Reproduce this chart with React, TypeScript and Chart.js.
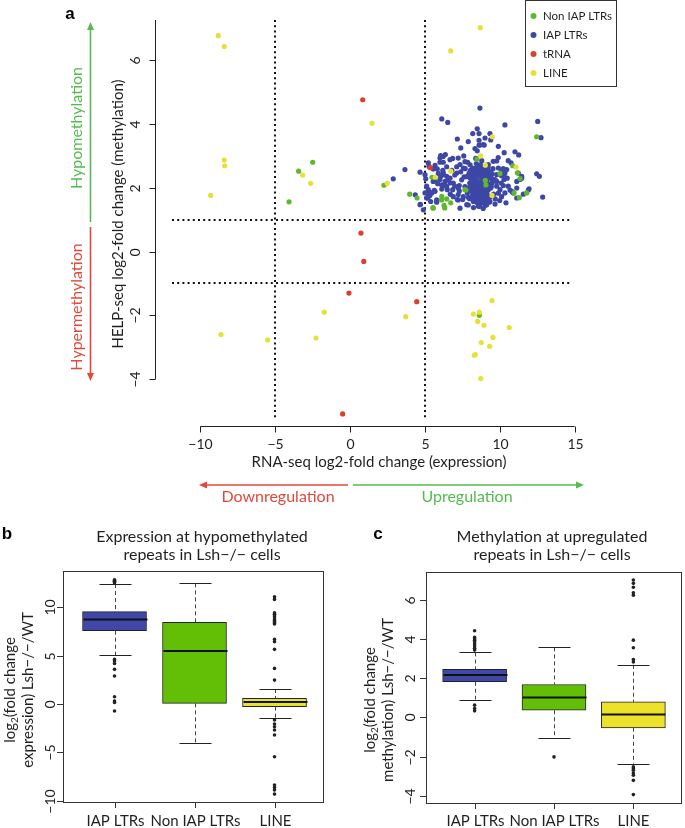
import React, { useEffect, useRef } from "react";
import { Chart, registerables } from "chart.js";
Chart.register(...registerables);

// ---------------- Panel a data ----------------
const xTicksA = [-10, -5, 0, 5, 10, 15];
const yTicksA = [-4, -2, 0, 2, 4, 6];
const expressionCutoffs = [-5, 5];
const methylationCutoffs = [-1, 1];
const legendLabels = ["Non IAP LTRs", "IAP LTRs", "tRNA", "LINE"];

const nonIapLTRs: [number, number][] = [
  [-2.49, 2.8], [-3.43, 2.52], [-4.07, 1.56], [2.27, 2.08], [3.99, 1.8], [4.48, 1.68],
  [5.54, 1.38], [6.13, 1.73], [6.46, 1.65], [6.73, 1.53], [6.28, 1.45], [6.33, 1.37],
  [5.48, 2.33], [7.75, 1.93], [8.48, 2.9], [9.04, 2.23], [9.08, 2.09], [8.64, -2.0],
  [10.02, 2.45], [10.96, 1.84], [11.18, 2.47], [11.31, 1.69], [11.8, 1.84], [12.47, 3.6],
  [10.87, 2.69], [11.36, 2.29], [6.12, 1.62], [5.56, 1.36], [7.68, 1.94],
];

const iapLTRs: [number, number][] = [
  [8.68, 4.5], [6.13, 4.16], [6.53, 4.05], [10.35, 3.97], [12.54, 4.08], [8.5, 3.85],
  [8.2, 3.7], [8.62, 3.7], [9.35, 3.7], [9.02, 3.56], [8.62, 3.49], [12.76, 3.57],
  [7.17, 3.53], [8.62, 3.34], [8.97, 3.34], [9.91, 3.3], [8.35, 3.23], [8.5, 3.16],
  [11.02, 3.13], [11.27, 3.03], [6.06, 3.01], [6.37, 3.04], [6.86, 2.92], [8.8, 2.85],
  [8.4, 2.92], [6.01, 2.8], [6.23, 2.8], [5.68, 2.7], [7.86, 2.8], [7.35, 2.73],
  [7.57, 2.62], [9.57, 2.83], [9.8, 2.84], [9.24, 2.73], [10.57, 2.85], [10.76, 2.78],
  [3.67, 2.57], [2.89, 2.28], [4.68, 2.49], [5.01, 2.41], [5.06, 2.28], [5.28, 2.67],
  [5.23, 2.78], [5.56, 2.59], [5.83, 2.59], [6.46, 2.66], [7.13, 2.66], [5.9, 2.45],
  [6.06, 2.36], [6.23, 2.47], [6.46, 2.36], [6.57, 2.26], [6.35, 2.2], [6.01, 2.26],
  [5.68, 2.24], [5.12, 2.05], [5.3, 1.86], [5.19, 1.68], [5.34, 1.76], [5.63, 1.92],
  [4.68, 1.47], [5.01, 1.84], [5.86, 2.13], [6.35, 2.07], [6.68, 2.15], [6.86, 1.94],
  [6.5, 1.94], [6.13, 1.96], [7.23, 1.79], [7.53, 1.63], [7.8, 1.47], [7.17, 1.63],
  [7.3, 2.07], [7.62, 2.34], [8.02, 2.31], [8.13, 2.2], [8.35, 1.94], [7.84, 1.84],
  [8.68, 1.42], [8.8, 1.53], [9.13, 1.47], [9.8, 2.05], [10.02, 1.94], [10.24, 2.07],
  [9.69, 2.26], [10.29, 2.26], [10.57, 2.05], [10.35, 1.84], [10.8, 1.89], [9.91, 2.62],
  [10.13, 2.52], [10.47, 2.57], [10.29, 2.41], [9.8, 2.41], [10.42, 1.53], [10.91, 1.84],
  [11.14, 1.68], [11.36, 2.26], [11.47, 2.36], [12.47, 2.44], [12.65, 2.36], [12.87, 1.71],
  [11.96, 1.97], [4.36, 1.78], [4.7, 1.48], [5.23, 1.89], [5.23, 1.73], [5.56, 2.2],
  [5.68, 1.89], [5.79, 1.55], [8.9, 3.35], [8.68, 3.34],
  [8.05, 2.55], [8.2, 2.62], [8.35, 2.5], [8.5, 2.58], [8.62, 2.66], [8.78, 2.52],
  [8.9, 2.6], [9.05, 2.48], [9.2, 2.55], [8.12, 2.4], [8.28, 2.35], [8.45, 2.42],
  [8.6, 2.38], [8.75, 2.3], [8.92, 2.4], [9.1, 2.33], [9.28, 2.4], [9.45, 2.3],
  [8.0, 2.15], [8.18, 2.22], [8.33, 2.12], [8.5, 2.2], [8.66, 2.14], [8.82, 2.2],
  [8.98, 2.1], [9.15, 2.18], [9.32, 2.1], [9.5, 2.16], [8.1, 1.98], [8.26, 1.92],
  [8.42, 2.02], [8.58, 1.95], [8.74, 2.0], [8.9, 1.9], [9.06, 1.98], [9.22, 1.92],
  [9.4, 1.99], [8.2, 1.8], [8.36, 1.72], [8.52, 1.82], [8.68, 1.76], [8.84, 1.8],
  [9.0, 1.72], [9.16, 1.78], [9.34, 1.7], [8.3, 1.6], [8.47, 1.55], [8.63, 1.62],
  [8.8, 1.66], [8.96, 1.58], [9.12, 1.62], [9.3, 1.55], [8.56, 2.48], [8.7, 2.06],
  [9.0, 2.28], [8.4, 1.86], [9.24, 2.02], [8.86, 2.46], [8.16, 2.3], [9.38, 2.5],
  [8.72, 2.72], [8.44, 2.76], [9.1, 2.7], [8.58, 1.42], [9.05, 1.45], [7.95, 2.45],
  [9.6, 1.8], [9.55, 2.6], [7.9, 2.0], [8.9, 1.35], [8.25, 1.38],
  [10.24, 2.6], [10.35, 2.46], [10.13, 2.38], [11.24, 2.46], [11.47, 2.3], [11.14, 2.2],
  [10.69, 1.93], [10.87, 1.86], [11.14, 1.99], [11.58, 1.8], [11.91, 1.93], [10.13, 1.72],
  [9.91, 1.83], [9.35, 1.57], [9.69, 1.49], [9.13, 1.67],
  [6.01, 2.93], [6.23, 2.98], [6.68, 2.88], [7.23, 2.93], [7.68, 2.82], [8.02, 2.72],
  [8.24, 2.56], [6.23, 2.41], [6.68, 2.3], [7.13, 2.46], [7.46, 2.25], [7.8, 2.35],
  [6.13, 2.09], [6.46, 2.04], [6.9, 2.15], [7.23, 1.99], [7.68, 2.04], [8.13, 1.94],
  [5.23, 1.94], [5.46, 1.84], [5.12, 1.68], [5.39, 1.57], [5.79, 1.62], [6.9, 1.72],
  [7.23, 1.62], [7.57, 1.72], [7.9, 1.46], [8.24, 1.57], [7.35, 1.36], [4.9, 1.31],
  [8.08, 2.05], [8.22, 2.48], [8.38, 2.28], [8.54, 2.08], [8.7, 2.44], [8.86, 2.12],
  [9.02, 2.38], [9.18, 2.06], [9.34, 2.3], [8.14, 1.7], [8.3, 1.88], [8.46, 1.66],
  [8.62, 1.86], [8.78, 1.6], [8.94, 1.84], [9.1, 1.86], [9.26, 1.74], [8.4, 2.62],
  [8.66, 2.58], [8.94, 2.56], [9.22, 2.64], [8.0, 1.9], [8.56, 1.5], [9.08, 2.6],
  [9.44, 2.04], [9.5, 2.44], [7.98, 1.66], [8.86, 1.72], [8.34, 2.0], [8.76, 2.1],
  [7.4, 2.5], [7.7, 2.6], [7.0, 2.4], [6.8, 2.55], [7.3, 1.9], [7.9, 1.7],
  [9.8, 2.2], [10.1, 2.15], [10.5, 2.3], [9.7, 1.65], [10.0, 1.6], [6.7, 1.8],
  [7.0, 2.05], [6.2, 2.55], [9.9, 2.95], [10.3, 3.1], [7.6, 3.0], [7.4, 3.25],
  [9.4, 3.5], [7.9, 3.45],
];

const tRNA: [number, number][] = [
  [0.85, 4.76], [5.36, 2.63], [0.73, 0.58], [0.92, -0.31], [-0.07, -1.3], [4.46, -1.57], [-0.49, -5.09],
];

const lineElements: [number, number][] = [
  [-8.8, 6.77], [-8.4, 6.43], [-8.4, 2.87], [-8.37, 2.69], [-9.31, 1.76], [1.47, 4.02],
  [-3.16, 2.4], [-2.63, 2.14], [2.49, 2.14], [-8.62, -2.6], [-5.5, -2.77], [-1.72, -1.9],
  [-2.27, -2.71], [3.72, -2.04], [8.7, 7.02], [6.73, 6.29], [9.51, 3.6], [8.73, 3.0],
  [9.04, 2.71], [6.73, 2.52], [5.7, 2.33], [9.49, 1.76], [11.09, 2.65],
  [9.49, -1.54], [8.64, -1.9], [8.24, -1.96], [8.53, -2.19], [8.95, -2.31], [10.64, -2.38],
  [9.55, -2.69], [8.77, -2.85], [9.33, -2.97], [8.37, -3.23], [8.3, -3.25], [8.73, -3.98],
];

// ---------------- Panels b & c data ----------------
const boxCategories = ["IAP LTRs", "Non IAP LTRs", "LINE"];

const exprLowerWhisker = [5.07, -4.0, -1.41];
const exprQ1 = [7.59, 0.07, -0.27];
const exprMedian = [8.76, 5.49, 0.2];
const exprQ3 = [9.56, 8.46, 0.59];
const exprUpperWhisker = [12.42, 12.49, 1.55];
const exprOutliersIAP = [12.55, 12.62, 12.7, 12.78, 12.86, 4.62, 4.45, 4.2, 3.59, 2.9, 0.76, 0.31, 0.17, -0.72];
const exprOutliersNonIAP: number[] = [];
const exprOutliersLINE = [11.11, 10.83, 9.45, 9.3, 9.21, 9.04, 8.8, 8.65, 8.52, 8.4, 8.28, 6.69, 6.45, 5.66, 3.69, 2.48,
  -1.66, -2.07, -2.35, -2.69, -3.21, -5.45, -8.38, -8.63, -8.9, -9.32];
const exprYTicks = [-10, -5, 0, 5, 10];

const methLowerWhisker = [0.92, -1.06, -2.36];
const methQ1 = [1.83, 0.37, -0.53];
const methMedian = [2.18, 1.02, 0.15];
const methQ3 = [2.46, 1.69, 0.8];
const methUpperWhisker = [3.33, 3.59, 2.7];
const methOutliersIAP = [4.44, 4.1, 4.02, 3.96, 3.86, 3.76, 3.66, 3.54, 3.45, 0.63, 0.46, 0.34];
const methOutliersNonIAP = [-2.02];
const methOutliersLINE = [7.04, 6.87, 6.67, 6.39, 6.26, 3.96, 3.57, 2.97, 2.84, -2.53, -2.62, -2.7, -2.84, -2.96, -3.22, -3.95];
const methYTicks = [-4, -2, 0, 2, 4, 6];

// ---------------- style ----------------
const W = 685;
const H = 828;
const FONT = "Lato, 'Open Sans', sans-serif";
const INK = "#231f20";
const C_GREEN = "#5fb82c";
const C_BLUE = "#3d47a6";
const C_RED = "#dc3f2c";
const C_YELLOW = "#e8e03a";
const BOX_FILL = ["#3f48a8", "#62bf06", "#ece22c"];
const ARROW_RED = "#e5483a";
const ARROW_GREEN = "#55bb4e";
const MINUS = "\u2212";

const fmt = (v: number) => (v < 0 ? MINUS + Math.abs(v) : String(v));

function rotText(ctx: CanvasRenderingContext2D, text: string, x: number, y: number, font: string, color: string) {
  ctx.save();
  ctx.translate(x, y);
  ctx.rotate(-Math.PI / 2);
  ctx.font = font;
  ctx.fillStyle = color;
  ctx.textAlign = "center";
  ctx.textBaseline = "middle";
  ctx.fillText(text, 0, 0);
  ctx.restore();
}

function text(ctx: CanvasRenderingContext2D, t: string, x: number, y: number, font: string, color: string, align: CanvasTextAlign = "center") {
  ctx.font = font;
  ctx.fillStyle = color;
  ctx.textAlign = align;
  ctx.textBaseline = "middle";
  ctx.fillText(t, x, y);
}

function arrow(ctx: CanvasRenderingContext2D, x1: number, y1: number, x2: number, y2: number, color: string) {
  const ang = Math.atan2(y2 - y1, x2 - x1);
  const hl = 8;
  const hw = 3.5;
  ctx.save();
  ctx.strokeStyle = color;
  ctx.fillStyle = color;
  ctx.lineWidth = 1.6;
  ctx.beginPath();
  ctx.moveTo(x1, y1);
  ctx.lineTo(x2 - Math.cos(ang) * hl * 0.8, y2 - Math.sin(ang) * hl * 0.8);
  ctx.stroke();
  ctx.beginPath();
  ctx.moveTo(x2, y2);
  ctx.lineTo(x2 - Math.cos(ang) * hl - Math.sin(ang) * hw, y2 - Math.sin(ang) * hl + Math.cos(ang) * hw);
  ctx.lineTo(x2 - Math.cos(ang) * hl + Math.sin(ang) * hw, y2 - Math.sin(ang) * hl - Math.cos(ang) * hw);
  ctx.closePath();
  ctx.fill();
  ctx.restore();
}

// subscripted rotated label "log2(...)"
function rotLog2(ctx: CanvasRenderingContext2D, rest: string, x: number, y: number, size: number) {
  ctx.save();
  ctx.translate(x, y);
  ctx.rotate(-Math.PI / 2);
  ctx.fillStyle = INK;
  ctx.textBaseline = "middle";
  ctx.textAlign = "left";
  const big = `${size}px ${FONT}`;
  const small = `${Math.round(size * 0.68)}px ${FONT}`;
  ctx.font = big;
  const w1 = ctx.measureText("log").width;
  const w3 = ctx.measureText(rest).width;
  ctx.font = small;
  const w2 = ctx.measureText("2").width;
  const start = -(w1 + w2 + w3) / 2;
  ctx.font = big;
  ctx.fillText("log", start, 0);
  ctx.font = small;
  ctx.fillText("2", start + w1, size * 0.3);
  ctx.font = big;
  ctx.fillText(rest, start + w1 + w2, 0);
  ctx.restore();
}

// ---------------- Panel a ----------------
const panelAPlugin = {
  id: "panelA",
  beforeDatasetsDraw(chart: any) {
    const { ctx, chartArea: a, scales } = chart;
    const xs = scales.x;
    const ys = scales.y;
    ctx.save();
    ctx.strokeStyle = "#111";
    ctx.lineWidth = 2;
    ctx.setLineDash([2, 3.2]);
    for (const v of expressionCutoffs) {
      const px = Math.round(xs.getPixelForValue(v));
      ctx.beginPath();
      ctx.moveTo(px, a.top);
      ctx.lineTo(px, a.bottom);
      ctx.stroke();
    }
    for (const v of methylationCutoffs) {
      const py = Math.round(ys.getPixelForValue(v));
      ctx.beginPath();
      ctx.moveTo(a.left, py);
      ctx.lineTo(a.right, py);
      ctx.stroke();
    }
    ctx.restore();
  },
  afterDraw(chart: any) {
    const { ctx, chartArea: a, scales } = chart;
    const xs = scales.x;
    const ys = scales.y;
    ctx.save();
    ctx.strokeStyle = INK;
    ctx.lineWidth = 1;
    // y axis
    const axX = 155.5;
    ctx.beginPath();
    ctx.moveTo(axX, a.top);
    ctx.lineTo(axX, ys.getPixelForValue(yTicksA[0]));
    ctx.stroke();
    for (const t of yTicksA) {
      const py = Math.round(ys.getPixelForValue(t)) + 0.5;
      ctx.beginPath();
      ctx.moveTo(axX, py);
      ctx.lineTo(axX - 6, py);
      ctx.stroke();
      rotText(ctx, fmt(t), 135, py, `14px ${FONT}`, INK);
    }
    // x axis
    const axY = 426.5;
    ctx.beginPath();
    ctx.moveTo(xs.getPixelForValue(xTicksA[0]), axY);
    ctx.lineTo(xs.getPixelForValue(xTicksA[xTicksA.length - 1]), axY);
    ctx.stroke();
    for (const t of xTicksA) {
      const px = Math.round(xs.getPixelForValue(t)) + 0.5;
      ctx.beginPath();
      ctx.moveTo(px, axY);
      ctx.lineTo(px, axY + 6);
      ctx.stroke();
      text(ctx, fmt(t), px, 444, `14px ${FONT}`, INK);
    }
    text(ctx, "RNA-seq log2-fold change (expression)", 379, 462, `15px ${FONT}`, INK);
    rotText(ctx, "HELP-seq log2-fold change (methylation)", 118, 214, `15px ${FONT}`, INK);

    // direction arrows
    arrow(ctx, 348, 485, 199, 485, ARROW_RED);
    arrow(ctx, 353, 485, 584, 485, ARROW_GREEN);
    text(ctx, "Downregulation", 278, 497, `16px ${FONT}`, ARROW_RED);
    text(ctx, "Upregulation", 467, 497, `16px ${FONT}`, ARROW_GREEN);
    arrow(ctx, 90.5, 222, 90.5, 22, ARROW_GREEN);
    arrow(ctx, 90.5, 227, 90.5, 381, ARROW_RED);
    rotText(ctx, "Hypomethylation", 77, 128, `16px ${FONT}`, ARROW_GREEN);
    rotText(ctx, "Hypermethylation", 77, 307, `16px ${FONT}`, ARROW_RED);

    // panel letter
    text(ctx, "a", 70, 14, `bold 17px 'Liberation Sans', Arial, sans-serif`, "#000");

    // legend
    ctx.strokeStyle = "#333";
    ctx.lineWidth = 1;
    ctx.strokeRect(525.5, 0.5, 91, 86);
    const cols = [C_GREEN, C_BLUE, C_RED, C_YELLOW];
    legendLabels.forEach((l, i) => {
      const yy = 16 + i * 19;
      ctx.beginPath();
      ctx.fillStyle = cols[i];
      ctx.arc(533.5, yy, 3, 0, Math.PI * 2);
      ctx.fill();
      text(ctx, l, 543, yy, `11.5px ${FONT}`, INK, "left");
    });
    ctx.restore();
  },
};

function PanelA() {
  const ref = useRef<HTMLCanvasElement | null>(null);
  useEffect(() => {
    if (!ref.current) return;
    const mk = (d: [number, number][]) => d.map(([x, y]) => ({ x, y }));
    const ds = (label: string, data: [number, number][], color: string, order: number) => ({
      label,
      data: mk(data),
      backgroundColor: color,
      borderWidth: 0,
      pointRadius: 2.6,
      pointHoverRadius: 2.6,
      order,
    });
    const chart = new Chart(ref.current, {
      type: "scatter",
      data: {
        datasets: [
          ds(legendLabels[1], iapLTRs, C_BLUE, 4),
          ds(legendLabels[0], nonIapLTRs, C_GREEN, 3),
          ds(legendLabels[2], tRNA, C_RED, 2),
          ds(legendLabels[3], lineElements, C_YELLOW, 1),
        ],
      },
      options: {
        responsive: false,
        animation: false,
        devicePixelRatio: 1,
        events: [],
        layout: { padding: { left: 172, right: W - 572, top: 20, bottom: H - 420 } },
        plugins: { legend: { display: false }, tooltip: { enabled: false } },
        scales: {
          x: { type: "linear", min: -11.89, max: 14.83, display: false },
          y: { type: "linear", min: -5.28, max: 7.26, display: false },
        },
      },
      plugins: [panelAPlugin],
    } as any);
    return () => chart.destroy();
  }, []);
  return <canvas ref={ref} width={W} height={H} style={{ position: "absolute", left: 0, top: 0 }} />;
}

// ---------------- Box plot panels ----------------
type BoxProps = {
  lower: number[];
  q1: number[];
  median: number[];
  q3: number[];
  upper: number[];
  outliers: number[][];
  yTicks: number[];
  yMin: number;
  yMax: number;
  xMin: number;
  xMax: number;
  area: { left: number; right: number; top: number; bottom: number };
  tickLabelX: number;
  titleX: number;
  titleLines: string[];
  yTitleRest: string;
  yTitle2: string;
  yTitleX: [number, number];
  yTitleY: number;
  letter: string;
  letterX: number;
};

function BoxPanel(p: BoxProps) {
  const ref = useRef<HTMLCanvasElement | null>(null);
  useEffect(() => {
    if (!ref.current) return;
    const plugin = {
      id: "boxExtras",
      afterDatasetsDraw(chart: any) {
        const { ctx, scales } = chart;
        const xs = scales.x;
        const ys = scales.y;
        ctx.save();
        boxCategories.forEach((_, i) => {
          const cx = Math.round(xs.getPixelForValue(i + 1)) + 0.5;
          const yU = ys.getPixelForValue(p.upper[i]);
          const yQ3 = ys.getPixelForValue(p.q3[i]);
          const yQ1 = ys.getPixelForValue(p.q1[i]);
          const yL = ys.getPixelForValue(p.lower[i]);
          ctx.strokeStyle = "#444";
          ctx.lineWidth = 1;
          ctx.setLineDash([4, 3]);
          ctx.beginPath();
          ctx.moveTo(cx, yU);
          ctx.lineTo(cx, yQ3);
          ctx.moveTo(cx, yQ1);
          ctx.lineTo(cx, yL);
          ctx.stroke();
          ctx.setLineDash([]);
          ctx.strokeStyle = "#222";
          ctx.beginPath();
          ctx.moveTo(cx - 16, Math.round(yU) + 0.5);
          ctx.lineTo(cx + 16, Math.round(yU) + 0.5);
          ctx.moveTo(cx - 16, Math.round(yL) + 0.5);
          ctx.lineTo(cx + 16, Math.round(yL) + 0.5);
          ctx.stroke();
          ctx.lineWidth = 2;
          ctx.strokeStyle = "#111";
          const ym = ys.getPixelForValue(p.median[i]);
          ctx.beginPath();
          ctx.moveTo(cx - 32, ym);
          ctx.lineTo(cx + 32, ym);
          ctx.stroke();
        });
        ctx.restore();
      },
      afterDraw(chart: any) {
        const { ctx, chartArea: a, scales } = chart;
        const xs = scales.x;
        const ys = scales.y;
        ctx.save();
        ctx.strokeStyle = "#333";
        ctx.lineWidth = 1;
        ctx.strokeRect(Math.round(a.left) + 0.5, Math.round(a.top) + 0.5, Math.round(a.right - a.left), Math.round(a.bottom - a.top));
        for (const t of p.yTicks) {
          const py = Math.round(ys.getPixelForValue(t)) + 0.5;
          ctx.beginPath();
          ctx.moveTo(a.left, py);
          ctx.lineTo(a.left - 6, py);
          ctx.stroke();
          rotText(ctx, fmt(t), p.tickLabelX, py, `14px ${FONT}`, INK);
        }
        boxCategories.forEach((c, i) => {
          const px = Math.round(xs.getPixelForValue(i + 1)) + 0.5;
          ctx.beginPath();
          ctx.moveTo(px, a.bottom);
          ctx.lineTo(px, a.bottom + 6);
          ctx.stroke();
          text(ctx, c, px, 821, `15px ${FONT}`, INK);
        });
        p.titleLines.forEach((l, i) => text(ctx, l, p.titleX, 537 + i * 18, `16px ${FONT}`, INK));
        rotLog2(ctx, p.yTitleRest, p.yTitleX[0], p.yTitleY, 15);
        rotText(ctx, p.yTitle2, p.yTitleX[1], p.yTitleY, `15px ${FONT}`, INK);
        text(ctx, p.letter, p.letterX, 534, `bold 17px 'Liberation Sans', Arial, sans-serif`, "#000");
        ctx.restore();
      },
    };
    const outlierPts: { x: number; y: number }[] = [];
    p.outliers.forEach((arr, i) => arr.forEach((v) => outlierPts.push({ x: i + 1, y: v })));
    const chart = new Chart(ref.current, {
      type: "bar",
      data: {
        datasets: [
          {
            type: "bar",
            data: boxCategories.map((_, i) => ({ x: i + 1, y: [p.q1[i], p.q3[i]] })),
            backgroundColor: BOX_FILL,
            borderColor: "#222",
            borderWidth: 1,
            borderSkipped: false,
            barThickness: 64,
            order: 2,
          },
          {
            type: "scatter",
            data: outlierPts,
            backgroundColor: "#222",
            borderWidth: 0,
            pointRadius: 1.8,
            order: 1,
          },
        ],
      },
      options: {
        responsive: false,
        animation: false,
        devicePixelRatio: 1,
        events: [],
        layout: {
          padding: { left: p.area.left, right: W - p.area.right, top: p.area.top, bottom: H - p.area.bottom },
        },
        plugins: { legend: { display: false }, tooltip: { enabled: false } },
        scales: {
          x: { type: "linear", min: p.xMin, max: p.xMax, offset: false, display: false },
          y: { type: "linear", min: p.yMin, max: p.yMax, display: false },
        },
      },
      plugins: [plugin],
    } as any);
    return () => chart.destroy();
  }, []);
  return <canvas ref={ref} width={W} height={H} style={{ position: "absolute", left: 0, top: 0 }} />;
}

export default function App() {
  return (
    <div style={{ position: "absolute", left: 0, top: 0, width: W, height: H, background: "#fff" }}>
      <PanelA />
      <BoxPanel
        lower={exprLowerWhisker}
        q1={exprQ1}
        median={exprMedian}
        q3={exprQ3}
        upper={exprUpperWhisker}
        outliers={[exprOutliersIAP, exprOutliersNonIAP, exprOutliersLINE]}
        yTicks={exprYTicks}
        yMin={-10.14}
        yMax={13.77}
        xMin={0.356}
        xMax={3.606}
        area={{ left: 63, right: 323, top: 571, bottom: 802 }}
        tickLabelX={50}
        titleX={202}
        titleLines={["Expression at hypomethylated", "repeats in Lsh\u2212/\u2212 cells"]}
        yTitleRest="(fold change"
        yTitle2={"expression) Lsh\u2212/\u2212/WT"}
        yTitleX={[10, 28]}
        yTitleY={690}
        letter="b"
        letterX={7}
      />
      <BoxPanel
        lower={methLowerWhisker}
        q1={methQ1}
        median={methMedian}
        q3={methQ3}
        upper={methUpperWhisker}
        outliers={[methOutliersIAP, methOutliersNonIAP, methOutliersLINE]}
        yTicks={methYTicks}
        yMin={-4.38}
        yMax={7.45}
        xMin={0.3875}
        xMax={3.6}
        area={{ left: 426, right: 683, top: 572, bottom: 803 }}
        tickLabelX={410}
        titleX={552}
        titleLines={["Methylation at upregulated", "repeats in Lsh\u2212/\u2212 cells"]}
        yTitleRest="(fold change"
        yTitle2={"methylation) Lsh\u2212/\u2212/WT"}
        yTitleX={[370, 388]}
        yTitleY={700}
        letter="c"
        letterX={378}
      />
    </div>
  );
}
